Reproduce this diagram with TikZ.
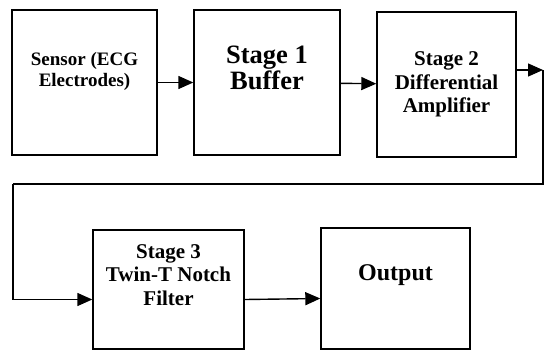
\documentclass[tikz,border=0pt]{standalone}
\usepackage{fontspec}
\setmainfont{Liberation Serif}
\usetikzlibrary{arrows.meta, positioning, calc}

\begin{document}
\begin{tikzpicture}[
    x=1pt, y=-1pt,
    >={Triangle[length=15pt, width=13pt]},
    block/.style={
        draw=black,
        line width=1.4pt,
        fill=white,
        align=center,
        inner sep=2pt,
        font=\bfseries\fontsize{19}{21}\selectfont
    },
    bigtext/.style={
        font=\bfseries\fontsize{26.5}{26}\selectfont
    },
    midtext/.style={
        font=\bfseries\fontsize{21}{23.5}\selectfont
    },
    wire/.style={
        draw=black,
        line width=1.4pt
    }
]
\useasboundingbox (0,0) rectangle (545,351);

% Blocks, top row
\node[block, minimum width=145pt, minimum height=145pt] (sensor) at (84.5,82.5) {Sensor (ECG\\Electrodes)\\[6pt]};
\node[block, bigtext, minimum width=146pt, minimum height=145pt] (buffer) at (267,82.5) {Stage 1\\Buffer\\[4pt]};
\node[block, midtext, minimum width=139pt, minimum height=145pt] (diffamp) at (446.5,84.5) {Stage 2\\Differential\\Amplifier};

% Blocks, bottom row
\node[block, midtext, minimum width=151pt, minimum height=119pt] (notch) at (168.5,289.5) {Stage 3\\Twin-T Notch\\Filter\\[6pt]};
\node[block, bigtext, font=\bfseries\fontsize{24}{25}\selectfont, minimum width=149pt, minimum height=121pt] (output) at (395.5,288.5) {Output\\[6pt]};

% Turn from top row to bottom row
\coordinate (r1) at (543,70);
\coordinate (r2) at (543,184);
\coordinate (l1) at (13,184);

% Connections
\draw[wire, ->] (sensor) -- (buffer);
\draw[wire, ->] (buffer) -- (diffamp);
\draw[wire, ->] (diffamp.east |- r1) -- (r1);
\draw[wire] (r1) -- (r2) -- (l1);
\draw[wire, ->] (l1) |- ($(notch.west)+(0,10)$);
\draw[wire, ->] ($(notch.east)+(0,10)$) -- ($(output.west)+(0,10)$);

\end{tikzpicture}
\end{document}
